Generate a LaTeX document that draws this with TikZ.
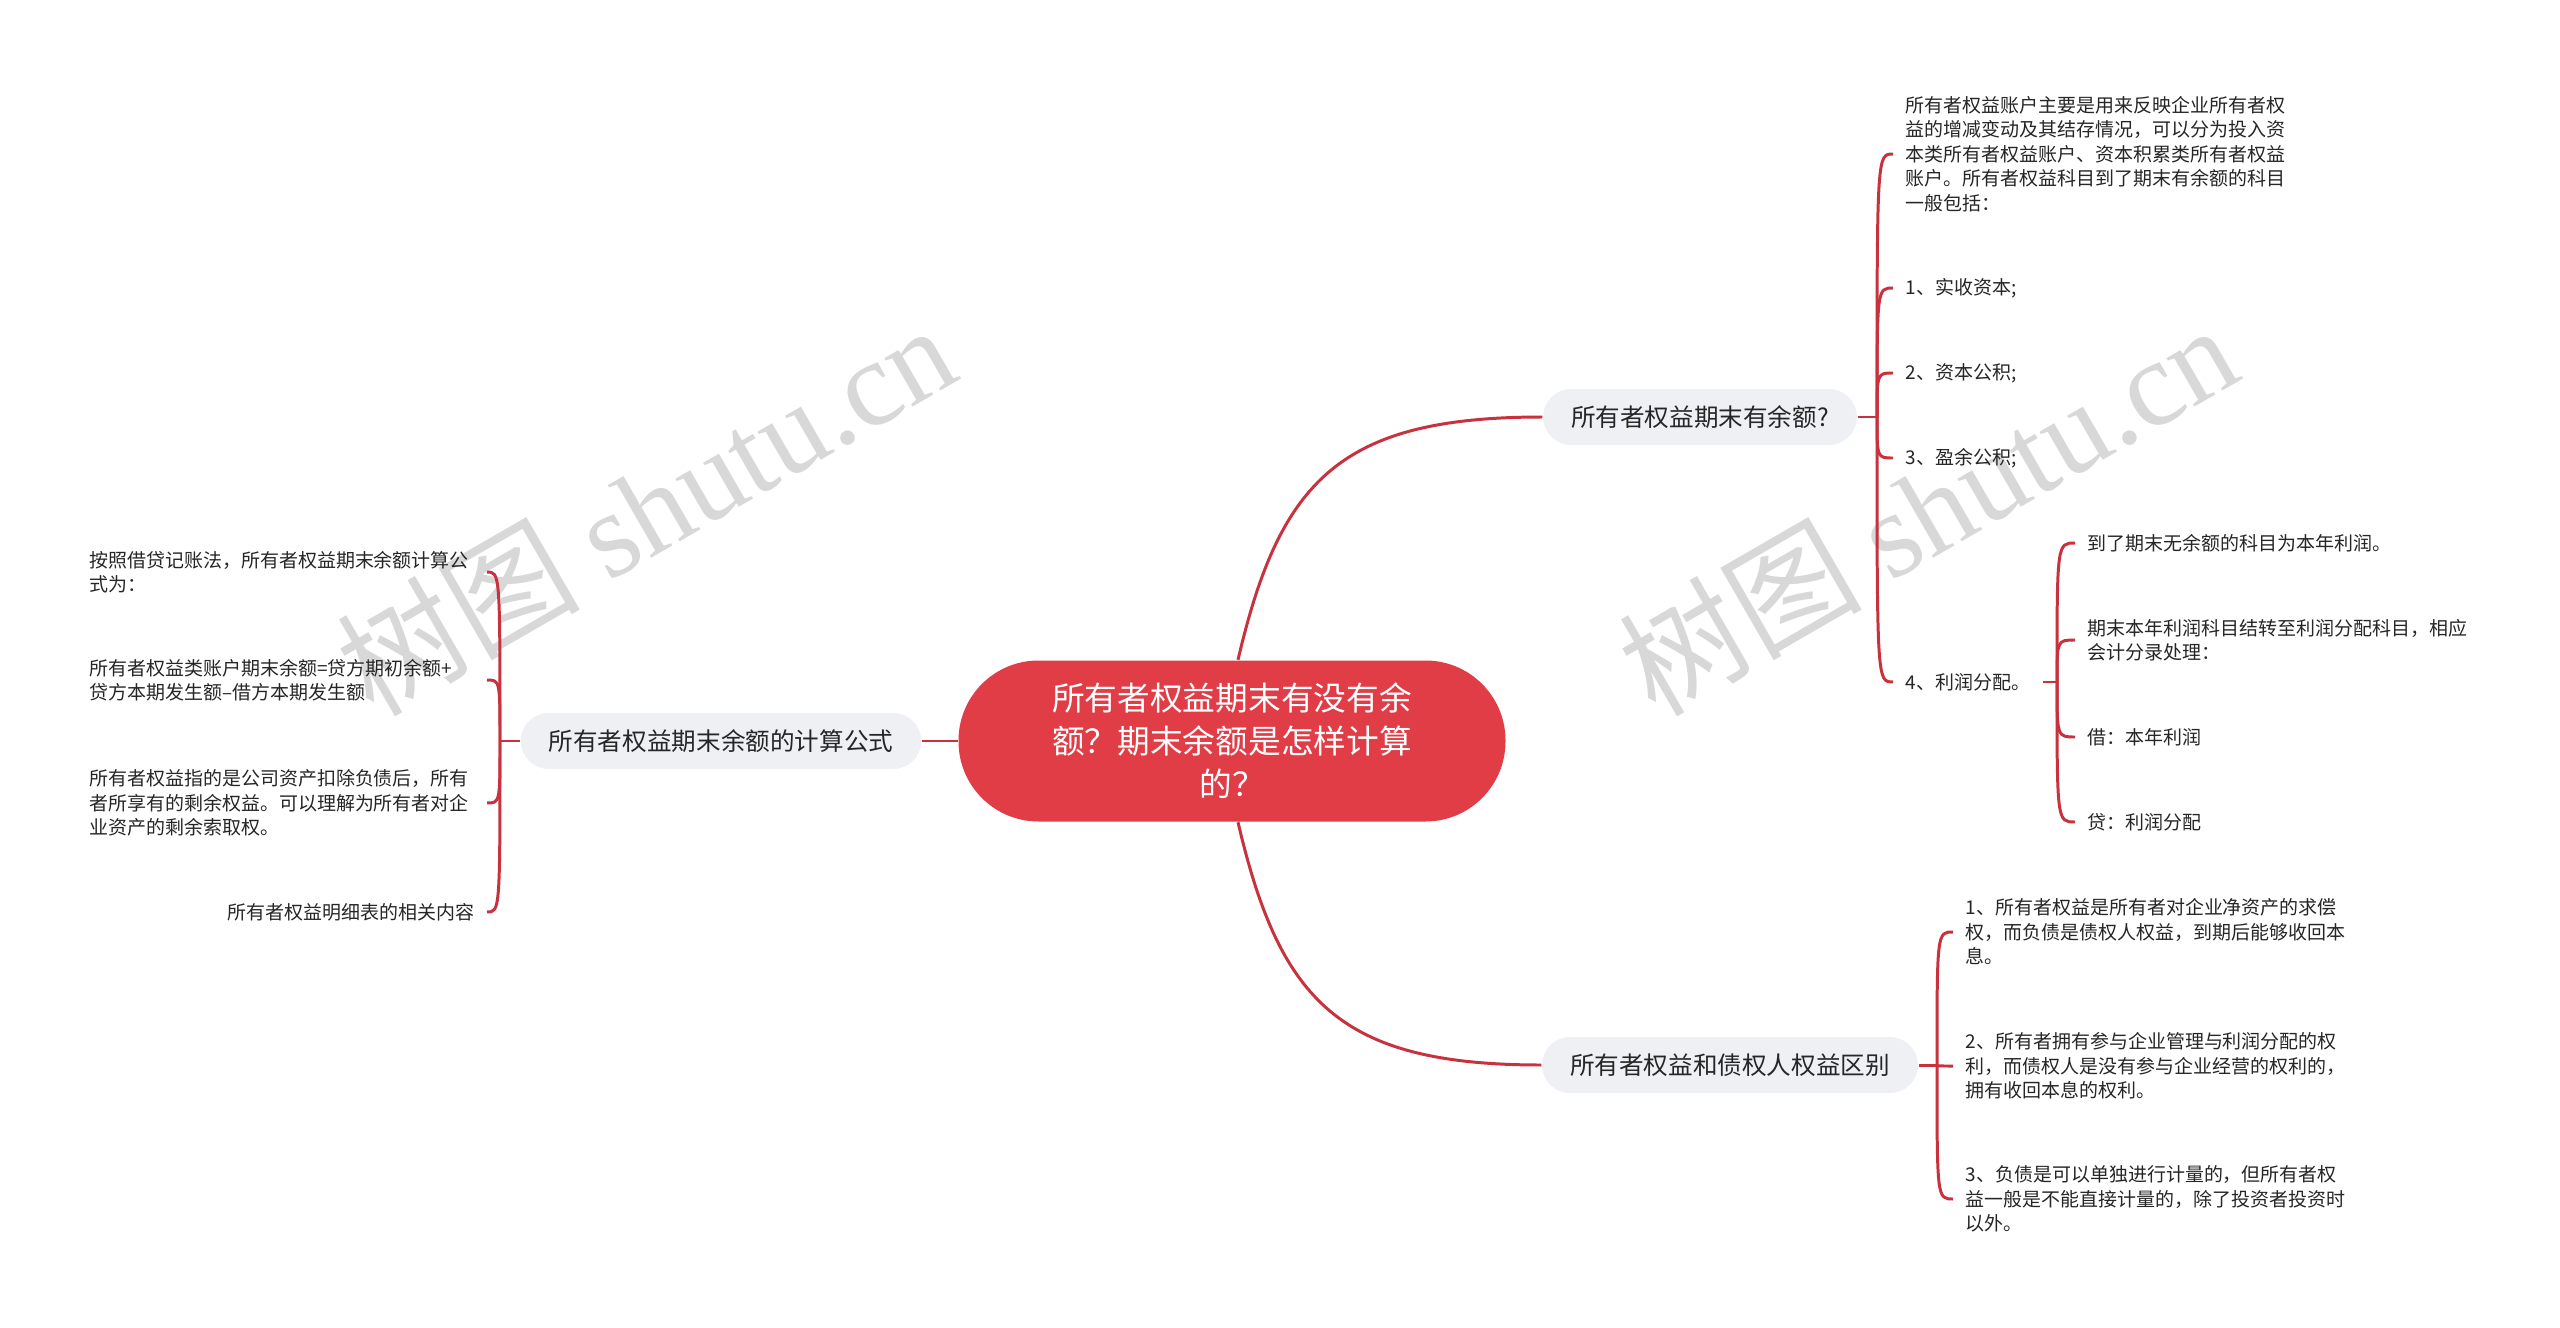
\documentclass[tikz,border=0pt]{standalone}
\usepackage{fontspec}
\setmainfont{Noto Sans CJK SC}
\newfontfamily\markfont{Liberation Serif}
\definecolor{rootred}{HTML}{E03D47}
\definecolor{linered}{HTML}{C8323E}
\definecolor{topicgrey}{HTML}{EEF0F3}
\definecolor{markgrey}{HTML}{D8D8D8}
\begin{document}
\begin{tikzpicture}[
  root/.style={fill=rootred, text=white, rounded corners=0.8cm, minimum width=5.47cm, minimum height=1.61cm, align=center, font=\fontsize{9.3pt}{12.2pt}\selectfont},
  topic/.style={fill=topicgrey, text=black!85, rounded corners=0.28cm, minimum height=0.56cm, inner xsep=0.28cm, inner ysep=0pt, font=\fontsize{7pt}{8.5pt}\selectfont},
  leaf/.style={text=black!85, align=left, inner xsep=0.12cm, inner ysep=0pt, font=\fontsize{5.4pt}{6.97pt}\selectfont},
  leafpara/.style={leaf, text width=3.85cm},
  branchline/.style={draw=linered, line width=0.85pt},
  wmark/.style={text=markgrey, rotate=30, inner sep=0pt, font=\fontsize{34.7pt}{36pt}\selectfont}
]
\useasboundingbox (0,0) rectangle (25.6,-13.28);
\fill[white] (0,0) rectangle (25.6,-13.28);

\node[wmark] (markleft) at (6.45,-5.08) {树图 {\markfont shutu.cn}};
\node[wmark] (markright) at (19.27,-5.08) {树图 {\markfont shutu.cn}};

\node[root] (root) at (12.32,-7.41) {所有者权益期末有没有余\\额？期末余额是怎样计算\\的？};
\node[topic] (calc) at (7.21,-7.41) {所有者权益期末余额的计算公式};
\node[topic] (bal) at (17.00,-4.17) {所有者权益期末有余额?};
\node[topic] (diff) at (17.30,-10.65) {所有者权益和债权人权益区别};

\coordinate (calchub) at (5.00,-7.41);
\coordinate (balhub) at (18.77,-4.17);
\coordinate (profhub) at (20.57,-6.82);
\coordinate (diffhub) at (19.37,-10.65);

\node[leafpara, anchor=east] (calc1) at (4.87,-5.72) {按照借贷记账法，所有者权益期末余额计算公\\式为：};
\node[leafpara, anchor=east] (calc2) at (4.87,-6.80) {所有者权益类账户期末余额=贷方期初余额+\\贷方本期发生额–借方本期发生额};
\node[leafpara, anchor=east] (calc3) at (4.87,-8.03) {所有者权益指的是公司资产扣除负债后，所有\\者所享有的剩余权益。可以理解为所有者对企\\业资产的剩余索取权。};
\node[leaf, anchor=east] (calc4) at (4.87,-9.12) {所有者权益明细表的相关内容};

\node[leafpara, anchor=west] (balintro) at (18.93,-1.54) {所有者权益账户主要是用来反映企业所有者权\\益的增减变动及其结存情况，可以分为投入资\\本类所有者权益账户、资本积累类所有者权益\\账户。所有者权益科目到了期末有余额的科目\\一般包括：};
\node[leaf, anchor=west] (bal1) at (18.93,-2.88) {1、实收资本;};
\node[leaf, anchor=west] (bal2) at (18.93,-3.73) {2、资本公积;};
\node[leaf, anchor=west] (bal3) at (18.93,-4.58) {3、盈余公积;};
\node[leaf, anchor=west] (bal4) at (18.93,-6.82) {4、利润分配。};

\node[leaf, anchor=west] (prof1) at (20.75,-5.43) {到了期末无余额的科目为本年利润。};
\node[leafpara, anchor=west] (prof2) at (20.75,-6.40) {期末本年利润科目结转至利润分配科目，相应\\会计分录处理：};
\node[leaf, anchor=west] (prof3) at (20.75,-7.37) {借：本年利润};
\node[leaf, anchor=west] (prof4) at (20.75,-8.22) {贷：利润分配};

\node[leafpara, anchor=west] (diff1) at (19.53,-9.32) {1、所有者权益是所有者对企业净资产的求偿\\权，而负债是债权人权益，到期后能够收回本\\息。};
\node[leafpara, anchor=west] (diff2) at (19.53,-10.66) {2、所有者拥有参与企业管理与利润分配的权\\利，而债权人是没有参与企业经营的权利的，\\拥有收回本息的权利。};
\node[leafpara, anchor=west] (diff3) at (19.53,-11.99) {3、负债是可以单独进行计量的，但所有者权\\益一般是不能直接计量的，除了投资者投资时\\以外。};

\draw[branchline] (root.west) -- (calc.east);
\draw[branchline] ([xshift=0.06cm]root.north) .. controls (12.80,-4.80) and (13.40,-4.17) .. (bal.west);
\draw[branchline] ([xshift=0.06cm]root.south) .. controls (12.80,-10.02) and (13.40,-10.65) .. (diff.west);

\draw[branchline] (calc.west) -- (calchub);
\foreach \n in {calc1,calc2,calc3,calc4}
  \draw[branchline] (calchub) .. controls (calchub |- \n.east) .. (\n.east);
\draw[branchline] (bal.east) -- (balhub);
\foreach \n in {balintro,bal1,bal2,bal3,bal4}
  \draw[branchline] (balhub) .. controls (balhub |- \n.west) .. (\n.west);
\draw[branchline] (bal4.east) -- (profhub);
\foreach \n in {prof1,prof2,prof3,prof4}
  \draw[branchline] (profhub) .. controls (profhub |- \n.west) .. (\n.west);
\draw[branchline] (diff.east) -- (diffhub);
\foreach \n in {diff1,diff2,diff3}
  \draw[branchline] (diffhub) .. controls (diffhub |- \n.west) .. (\n.west);
\end{tikzpicture}
\end{document}
